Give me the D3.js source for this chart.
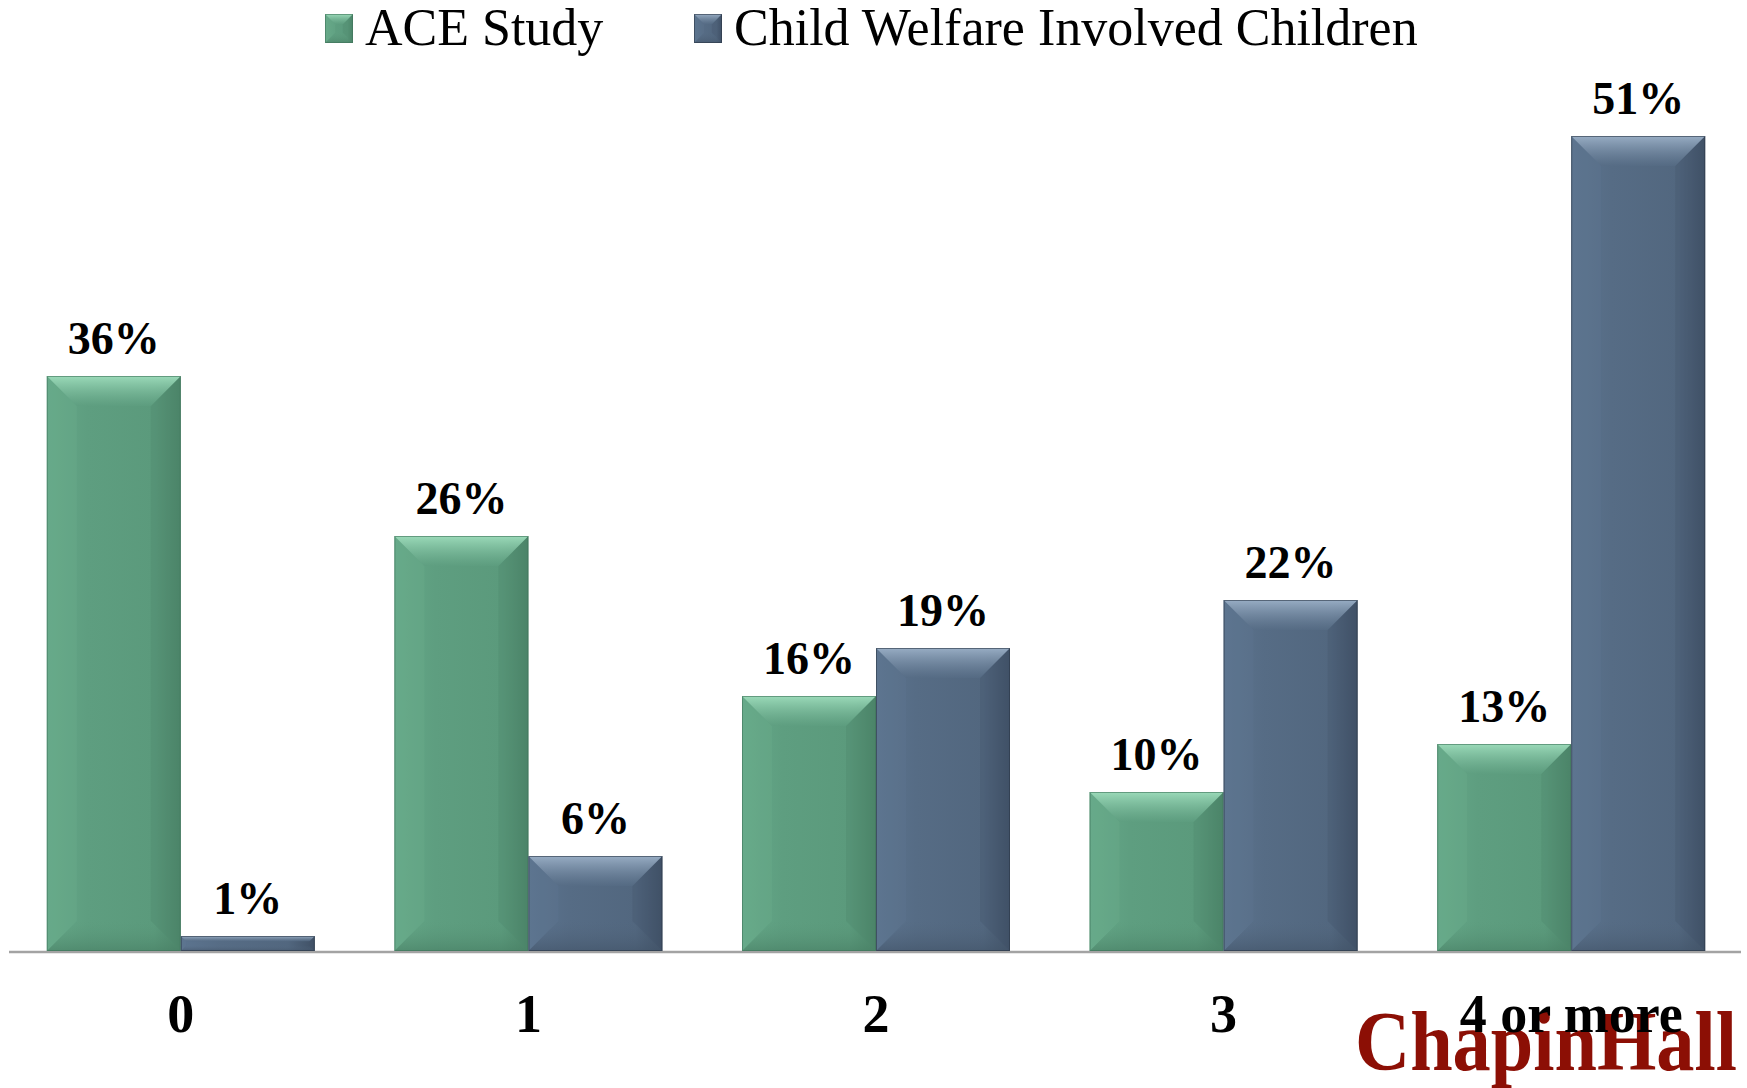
<!DOCTYPE html>
<html>
<head>
<meta charset="utf-8">
<script src="https://cdn.jsdelivr.net/npm/d3@7"></script>
<style>
  html, body { margin: 0; padding: 0; background: #ffffff; }
  svg { display: block; }
  text { font-family: "Liberation Serif", "Times New Roman", serif; }
</style>
</head>
<body>
<svg id="chart" width="1747" height="1088"></svg>
<script>
// Number of adverse childhood experiences
const categories = ["0", "1", "2", "3", "4 or more"];
const seriesNames = ["ACE Study", "Child Welfare Involved Children"];
const aceStudy = [36, 26, 16, 10, 13];
const childWelfare = [1, 6, 19, 22, 51];

const seriesValues = [aceStudy, childWelfare];

// Bevel palettes per series
const palettes = [
  { body: ["#65a888", "#5e9e80", "#5b9a7c", "#4b8468"], top: ["#9bdab9", "#5e9e80"], bottom: ["#5a987a", "#4a8267"], left: "#6cae8e", right: "#4c866a", edge: "#3f735a" },
  { body: ["#5c748f", "#566c85", "#52677f", "#3f5065"], top: ["#98adc4", "#566c85"], bottom: ["#52667d", "#44566b"], left: "#607893", right: "#435469", edge: "#2b3746" }
];

const svg = d3.select("#chart");
const defs = svg.append("defs");

palettes.forEach((p, i) => {
  const gb = defs.append("linearGradient").attr("id", "body" + i)
    .attr("x1", "0").attr("x2", "1").attr("y1", "0").attr("y2", "0");
  [0, 0.3, 0.8, 1].forEach((o, k) => gb.append("stop").attr("offset", o).attr("stop-color", p.body[k]));
  const gt = defs.append("linearGradient").attr("id", "top" + i)
    .attr("x1", "0").attr("x2", "0").attr("y1", "0").attr("y2", "1");
  gt.append("stop").attr("offset", 0).attr("stop-color", p.top[0]);
  gt.append("stop").attr("offset", 1).attr("stop-color", p.top[1]).attr("stop-opacity", 0.6);
  const gbo = defs.append("linearGradient").attr("id", "bot" + i)
    .attr("x1", "0").attr("x2", "0").attr("y1", "0").attr("y2", "1");
  gbo.append("stop").attr("offset", 0).attr("stop-color", p.bottom[0]).attr("stop-opacity", 0);
  gbo.append("stop").attr("offset", 1).attr("stop-color", p.bottom[1]);
});

const baseY = 952;
const x0 = d3.scaleBand().domain(categories).range([7, 1745]).paddingInner(0).paddingOuter(0);
const x1 = d3.scaleBand().domain(d3.range(seriesNames.length)).range([0, x0.bandwidth()])
  .paddingInner(0).paddingOuter(0.297);
const y = d3.scaleLinear().domain([0, 55]).range([baseY, baseY - 55 * 16]);

// Logo in the lower right, underneath the category labels
svg.append("text")
  .attr("x", 1355).attr("y", 1070)
  .attr("font-size", 84).attr("font-weight", "bold")
  .attr("fill", "#8c0f05")
  .attr("textLength", 382).attr("lengthAdjust", "spacingAndGlyphs")
  .text("ChapinHall");

// Baseline axis
svg.append("line")
  .attr("x1", 9).attr("x2", 1741).attr("y1", baseY).attr("y2", baseY)
  .attr("stroke", "#a3a3a3").attr("stroke-width", 2.5);

// Draws one bevelled bar
function bevelBar(g, x, w, top, bottom, si) {
  const p = palettes[si];
  const h = bottom - top;
  const b = Math.min(30, h * 0.35, w / 2);
  const xr = x + w;
  g.append("rect").attr("x", x).attr("y", top).attr("width", w).attr("height", h)
    .attr("fill", `url(#body${si})`);
  // left and right faces, kept faint
  g.append("polygon").attr("points", [[x, top], [x + b, top + b], [x + b, bottom - b], [x, bottom]].join(" "))
    .attr("fill", p.left).attr("opacity", 0.3);
  g.append("polygon").attr("points", [[xr, top], [xr - b, top + b], [xr - b, bottom - b], [xr, bottom]].join(" "))
    .attr("fill", p.right).attr("opacity", 0.3);
  // top face
  g.append("polygon").attr("points", [[x, top], [xr, top], [xr - b, top + b], [x + b, top + b]].join(" "))
    .attr("fill", `url(#top${si})`);
  // bottom face
  g.append("polygon").attr("points", [[x, bottom], [xr, bottom], [xr - b, bottom - b], [x + b, bottom - b]].join(" "))
    .attr("fill", `url(#bot${si})`).attr("opacity", 0.7);
  // outline
  g.append("rect").attr("x", x + 0.5).attr("y", top + 0.5).attr("width", w - 1).attr("height", h - 1)
    .attr("fill", "none").attr("stroke", p.edge).attr("stroke-width", 1).attr("opacity", 0.6);
}

const bars = svg.append("g");
const labels = svg.append("g");

categories.forEach((c, ci) => {
  seriesValues.forEach((vals, si) => {
    const v = vals[ci];
    const bx = x0(c) + x1(si);
    const bw = x1.bandwidth();
    const top = y(v);
    bevelBar(bars.append("g"), bx, bw, top, baseY - 1, si);
    labels.append("text")
      .attr("x", bx + bw / 2).attr("y", top - 22)
      .attr("text-anchor", "middle")
      .attr("font-size", 46).attr("font-weight", "bold")
      .attr("fill", "#000")
      .text(v + "%");
  });
});

// Category labels
svg.append("g").selectAll("text").data(categories).join("text")
  .attr("x", d => x0(d) + x0.bandwidth() / 2)
  .attr("y", 1032)
  .attr("text-anchor", "middle")
  .attr("font-size", 54).attr("font-weight", "bold")
  .attr("fill", "#000")
  .text(d => d);

// Legend
const legendItems = [
  { name: seriesNames[0], mx: 325, tx: 365 },
  { name: seriesNames[1], mx: 694, tx: 734 }
];
legendItems.forEach((it, i) => {
  const g = svg.append("g");
  bevelBar(g, it.mx, 28, 14, 43, i);
  g.append("text").attr("x", it.tx).attr("y", 45)
    .attr("font-size", 52).attr("fill", "#000")
    .text(it.name);
});
</script>
</body>
</html>
